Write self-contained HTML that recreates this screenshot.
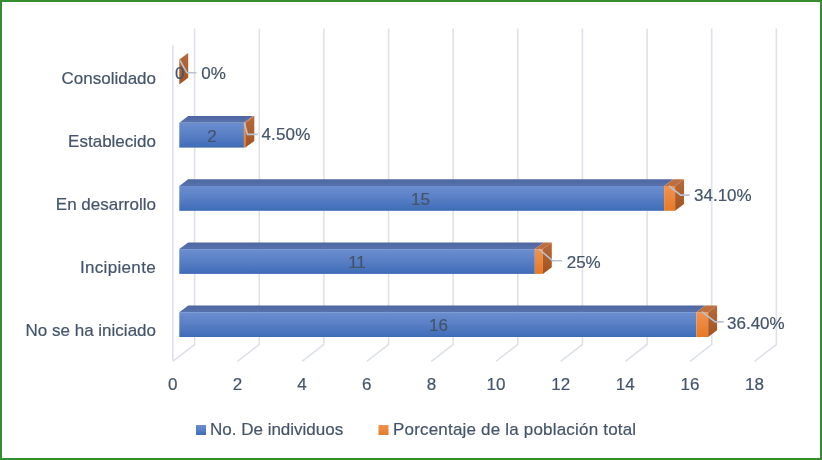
<!DOCTYPE html>
<html><head><meta charset="utf-8"><style>
html,body{margin:0;padding:0;background:#fff;}
#c{position:relative;width:822px;height:460px;overflow:hidden;background:#fff;font-family:"Liberation Sans",sans-serif;}
#b{position:absolute;left:0;top:0;width:822px;height:460px;box-sizing:border-box;border:2px solid #358D2F;}
</style></head><body><div id="c">
<svg width="822" height="460" viewBox="0 0 822 460" style="position:absolute;left:0;top:0;will-change:transform">
<defs>
<linearGradient id="gB" x1="0" y1="0" x2="0" y2="1"><stop offset="0" stop-color="#6B8ED0"/><stop offset="0.45" stop-color="#5B80C6"/><stop offset="0.93" stop-color="#416FB9"/><stop offset="1" stop-color="#3B69B4"/></linearGradient>
<linearGradient id="gBt" x1="0" y1="0" x2="0" y2="1"><stop offset="0" stop-color="#4E66A2"/><stop offset="1" stop-color="#5873AC"/></linearGradient>
<linearGradient id="gO" x1="0" y1="0" x2="0" y2="1"><stop offset="0" stop-color="#F19350"/><stop offset="1" stop-color="#E77925"/></linearGradient>
<linearGradient id="gOs" x1="0" y1="0" x2="0" y2="1"><stop offset="0" stop-color="#B86A3C"/><stop offset="1" stop-color="#A2531F"/></linearGradient>
</defs>
<path d="M194.60 28.5 L194.60 344.5 L172.80 361.30 M259.24 28.5 L259.24 344.5 L237.44 361.30 M323.88 28.5 L323.88 344.5 L302.08 361.30 M388.52 28.5 L388.52 344.5 L366.72 361.30 M453.16 28.5 L453.16 344.5 L431.36 361.30 M517.80 28.5 L517.80 344.5 L496.00 361.30 M582.44 28.5 L582.44 344.5 L560.64 361.30 M647.08 28.5 L647.08 344.5 L625.28 361.30 M711.72 28.5 L711.72 344.5 L689.92 361.30 M776.36 28.5 L776.36 344.5 L754.56 361.30 M172.80 45.30 L172.80 361.30" fill="none" stroke="#DEE2E8" stroke-width="1.6"/>
<path d="M179.30 59.6 L188.20 52.9 L188.20 77.7 L179.30 84.4 Z" fill="url(#gOs)"/>
<path d="M179.3 122.8 L188.20000000000002 116.1 L252.84 116.1 L243.94 122.8 Z" fill="url(#gBt)"/>
<rect x="179.3" y="122.8" width="64.64" height="24.8" fill="url(#gB)"/>
<path d="M243.94 122.8 L252.84 116.1 L254.29 116.1 L245.39 122.8 Z" fill="#BF6F3F"/>
<rect x="243.94" y="122.8" width="1.45" height="24.8" fill="url(#gO)"/>
<path d="M245.39 122.8 L254.29 116.1 L254.29 140.9 L245.39 147.6 Z" fill="url(#gOs)"/>
<path d="M179.3 186.0 L188.20000000000002 179.3 L673.00 179.3 L664.10 186.0 Z" fill="url(#gBt)"/>
<rect x="179.3" y="186.0" width="484.80" height="24.8" fill="url(#gB)"/>
<path d="M664.10 186.0 L673.00 179.3 L684.02 179.3 L675.12 186.0 Z" fill="#BF6F3F"/>
<rect x="664.10" y="186.0" width="11.02" height="24.8" fill="url(#gO)"/>
<path d="M675.12 186.0 L684.02 179.3 L684.02 204.10000000000002 L675.12 210.8 Z" fill="url(#gOs)"/>
<path d="M179.3 249.1 L188.20000000000002 242.4 L543.72 242.4 L534.82 249.1 Z" fill="url(#gBt)"/>
<rect x="179.3" y="249.1" width="355.52" height="24.8" fill="url(#gB)"/>
<path d="M534.82 249.1 L543.72 242.4 L551.80 242.4 L542.90 249.1 Z" fill="#BF6F3F"/>
<rect x="534.82" y="249.1" width="8.08" height="24.8" fill="url(#gO)"/>
<path d="M542.90 249.1 L551.80 242.4 L551.80 267.2 L542.90 273.9 Z" fill="url(#gOs)"/>
<path d="M179.3 312.2 L188.20000000000002 305.5 L705.32 305.5 L696.42 312.2 Z" fill="url(#gBt)"/>
<rect x="179.3" y="312.2" width="517.12" height="24.8" fill="url(#gB)"/>
<path d="M696.42 312.2 L705.32 305.5 L717.08 305.5 L708.18 312.2 Z" fill="#BF6F3F"/>
<rect x="696.42" y="312.2" width="11.76" height="24.8" fill="url(#gO)"/>
<path d="M708.18 312.2 L717.08 305.5 L717.08 330.3 L708.18 337.0 Z" fill="url(#gOs)"/>
<path d="M179.7 60.0 L187.0 72.8 L196.5 72.8" fill="none" stroke="#B7C3D3" stroke-width="1.6"/>
<path d="M244.4 123.0 L247.5 134.4 L257.9 134.4" fill="none" stroke="#B7C3D3" stroke-width="1.6"/>
<path d="M669.0 185.8 L680.7 195.1 L689.7 195.1" fill="none" stroke="#B7C3D3" stroke-width="1.6"/>
<path d="M538.9 249.0 L552.6 260.8 L562.0 260.8" fill="none" stroke="#B7C3D3" stroke-width="1.6"/>
<path d="M701.8 311.6 L715.2 321.9 L723.7 321.9" fill="none" stroke="#B7C3D3" stroke-width="1.6"/>
<text x="156" y="83.9" font-family="Liberation Sans, sans-serif" stroke="#44546A" stroke-width="0.2" font-size="17" fill="#44546A" text-anchor="end">Consolidado</text>
<text x="156" y="146.7" font-family="Liberation Sans, sans-serif" stroke="#44546A" stroke-width="0.2" font-size="17" fill="#44546A" text-anchor="end">Establecido</text>
<text x="156" y="209.6" font-family="Liberation Sans, sans-serif" stroke="#44546A" stroke-width="0.2" font-size="17" fill="#44546A" text-anchor="end">En desarrollo</text>
<text x="156" y="272.6" font-family="Liberation Sans, sans-serif" stroke="#44546A" stroke-width="0.2" font-size="17" fill="#44546A" text-anchor="end" letter-spacing="0.33">Incipiente</text>
<text x="156" y="335.6" font-family="Liberation Sans, sans-serif" stroke="#44546A" stroke-width="0.2" font-size="17" fill="#44546A" text-anchor="end">No se ha iniciado</text>
<text x="172.80" y="390.3" font-family="Liberation Sans, sans-serif" stroke="#44546A" stroke-width="0.2" font-size="17" fill="#44546A" text-anchor="middle">0</text>
<text x="237.44" y="390.3" font-family="Liberation Sans, sans-serif" stroke="#44546A" stroke-width="0.2" font-size="17" fill="#44546A" text-anchor="middle">2</text>
<text x="302.08" y="390.3" font-family="Liberation Sans, sans-serif" stroke="#44546A" stroke-width="0.2" font-size="17" fill="#44546A" text-anchor="middle">4</text>
<text x="366.72" y="390.3" font-family="Liberation Sans, sans-serif" stroke="#44546A" stroke-width="0.2" font-size="17" fill="#44546A" text-anchor="middle">6</text>
<text x="431.36" y="390.3" font-family="Liberation Sans, sans-serif" stroke="#44546A" stroke-width="0.2" font-size="17" fill="#44546A" text-anchor="middle">8</text>
<text x="496.00" y="390.3" font-family="Liberation Sans, sans-serif" stroke="#44546A" stroke-width="0.2" font-size="17" fill="#44546A" text-anchor="middle">10</text>
<text x="560.64" y="390.3" font-family="Liberation Sans, sans-serif" stroke="#44546A" stroke-width="0.2" font-size="17" fill="#44546A" text-anchor="middle">12</text>
<text x="625.28" y="390.3" font-family="Liberation Sans, sans-serif" stroke="#44546A" stroke-width="0.2" font-size="17" fill="#44546A" text-anchor="middle">14</text>
<text x="689.92" y="390.3" font-family="Liberation Sans, sans-serif" stroke="#44546A" stroke-width="0.2" font-size="17" fill="#44546A" text-anchor="middle">16</text>
<text x="754.56" y="390.3" font-family="Liberation Sans, sans-serif" stroke="#44546A" stroke-width="0.2" font-size="17" fill="#44546A" text-anchor="middle">18</text>
<text x="179.65" y="79.1" font-family="Liberation Sans, sans-serif" stroke="#44546A" stroke-width="0.2" font-size="17" fill="#44546A" text-anchor="middle">0</text>
<text x="211.9" y="141.9" font-family="Liberation Sans, sans-serif" stroke="#44546A" stroke-width="0.2" font-size="17" fill="#44546A" text-anchor="middle">2</text>
<text x="420.4" y="205" font-family="Liberation Sans, sans-serif" stroke="#44546A" stroke-width="0.2" font-size="17" fill="#44546A" text-anchor="middle">15</text>
<text x="357" y="267.8" font-family="Liberation Sans, sans-serif" stroke="#44546A" stroke-width="0.2" font-size="17" fill="#44546A" text-anchor="middle">11</text>
<text x="438.4" y="330.9" font-family="Liberation Sans, sans-serif" stroke="#44546A" stroke-width="0.2" font-size="17" fill="#44546A" text-anchor="middle">16</text>
<text x="201.3" y="79.1" font-family="Liberation Sans, sans-serif" stroke="#44546A" stroke-width="0.2" font-size="17" fill="#44546A">0%</text>
<text x="261.4" y="140.3" font-family="Liberation Sans, sans-serif" stroke="#44546A" stroke-width="0.2" font-size="17" fill="#44546A" letter-spacing="0.2">4.50%</text>
<text x="694.0" y="201" font-family="Liberation Sans, sans-serif" stroke="#44546A" stroke-width="0.2" font-size="17" fill="#44546A">34.10%</text>
<text x="566.7" y="268.1" font-family="Liberation Sans, sans-serif" stroke="#44546A" stroke-width="0.2" font-size="17" fill="#44546A">25%</text>
<text x="727.0" y="329.2" font-family="Liberation Sans, sans-serif" stroke="#44546A" stroke-width="0.2" font-size="17" fill="#44546A">36.40%</text>
<rect x="196" y="425" width="10" height="10" fill="url(#gB)"/>
<text x="210" y="435" font-family="Liberation Sans, sans-serif" stroke="#44546A" stroke-width="0.2" font-size="17" fill="#44546A">No. De individuos</text>
<rect x="378.5" y="425" width="10" height="10" fill="url(#gO)"/>
<text x="393" y="435" font-family="Liberation Sans, sans-serif" stroke="#44546A" stroke-width="0.2" font-size="17" fill="#44546A" letter-spacing="0.19">Porcentaje de la población total</text>
</svg>
<div id="b"></div>
</div></body></html>
